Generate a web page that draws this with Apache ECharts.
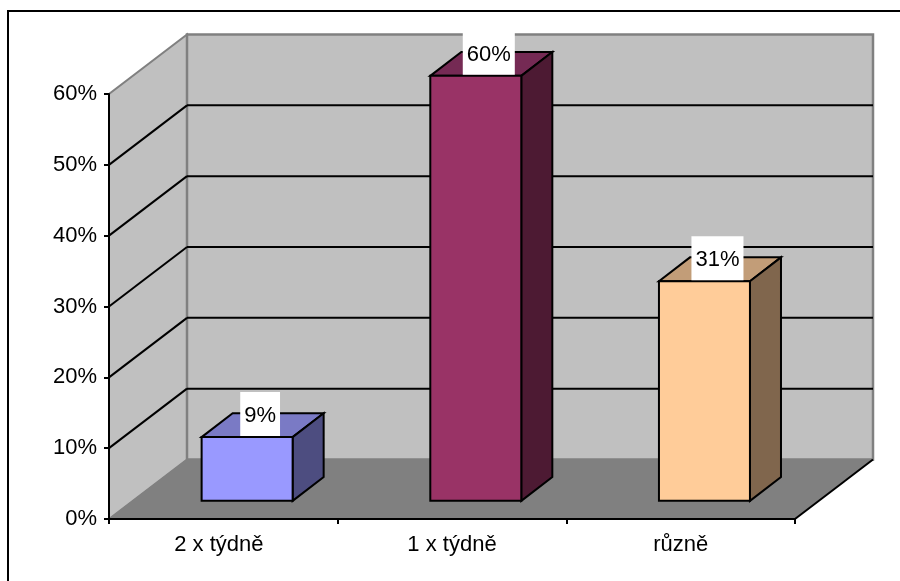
<!DOCTYPE html>
<html>
<head>
<meta charset="utf-8">
<style>html,body{margin:0;padding:0;background:#fff}#chart{width:900px;height:581px}</style>
<script src="https://cdn.jsdelivr.net/npm/echarts@6/dist/echarts.min.js"></script>
</head>
<body>
<div id="chart"></div>
<script>
// Share of respondents per frequency, in percent
const categories = ['2 x týdně', '1 x týdně', 'různě'];
const shares = [9, 60, 31];
const barColors = ['#9999FF', '#993366', '#FFCC99'];
const topColors = ['#7A7AC5', '#752A54', '#C29D78'];
const sideColors = ['#4D4D80', '#4D1A33', '#80664D'];
const gridTicks = [10, 20, 30, 40, 50];

// Oblique projection of the depth axis, and the bar's position along it
const DEPTH_X = 78, DEPTH_Y = 59.5;
const BAR_START = 0.305, BAR_END = 0.69, BAR_WIDTH = 91;
const FONT = '"Liberation Sans", Arial, sans-serif';
const FONT_SIZE = 22;

const line = (a, b, stroke, width) => ({
  type: 'line',
  shape: { x1: a[0], y1: a[1], x2: b[0], y2: b[1] },
  style: { stroke, lineWidth: width }
});
const poly = (points, fill, stroke, width) => ({
  type: 'polygon',
  shape: { points },
  style: { fill, stroke: stroke || fill, lineWidth: width || 0, lineJoin: 'miter' }
});

// Side wall, back wall, floor and the gridlines that run across the walls
function renderRoom(params, api) {
  const cs = params.coordSys;
  const l = cs.x, r = cs.x + cs.width, t = cs.y, b = cs.y + cs.height;
  const back = (x, y) => [x + DEPTH_X, y - DEPTH_Y];
  const children = [
    poly([[l, b], back(l, b), back(l, t), [l, t]], '#C0C0C0', '#808080', 2),
    poly([back(l, t), back(r, t), back(r, b), back(l, b)], '#C0C0C0', '#808080', 2.5),
    poly([[l, b], [r, b], back(r, b), back(l, b)], '#808080', '#808080', 1)
  ];
  gridTicks.forEach(tick => {
    const y = api.coord([0, tick])[1];
    children.push(line([l, y], back(l, y), '#000', 2));
    children.push(line(back(l, y), back(r, y), '#000', 2));
  });
  children.push(line([r, b], back(r, b), '#000', 2));
  return { type: 'group', children };
}

// A bar as a box standing on the floor, with its value tag on the front top edge
function renderBar(params, api) {
  const i = api.value(0), v = api.value(1);
  const cx = api.coord([i, 0])[0] + BAR_START * DEPTH_X;
  const base = api.coord([i, 0])[1] - BAR_START * DEPTH_Y;
  const top = base - (api.coord([i, 0])[1] - api.coord([i, v])[1]);
  const x0 = cx - BAR_WIDTH / 2, x1 = cx + BAR_WIDTH / 2;
  const dx = (BAR_END - BAR_START) * DEPTH_X + 1, dy = (BAR_END - BAR_START) * DEPTH_Y + 1;
  return {
    type: 'group',
    children: [
      poly([[x0, top], [x1, top], [x1 + dx, top - dy], [x0 + dx, top - dy]], topColors[i], '#000', 2),
      poly([[x1, top], [x1 + dx, top - dy], [x1 + dx, base - dy], [x1, base]], sideColors[i], '#000', 2),
      poly([[x0, top], [x1, top], [x1, base], [x0, base]], barColors[i], '#000', 2),
      {
        type: 'text',
        style: {
          x: cx + 13, y: top - 1,
          text: v + '%',
          font: FONT_SIZE + 'px ' + FONT,
          fill: '#000',
          align: 'center',
          verticalAlign: 'bottom',
          backgroundColor: '#fff',
          padding: [13, 4, 9, 4]
        }
      }
    ]
  };
}

const chart = echarts.init(document.getElementById('chart'), null, { renderer: 'canvas' });
chart.setOption({
  animation: false,
  backgroundColor: '#fff',
  graphic: [
    { type: 'line', shape: { x1: 7, y1: 11, x2: 900, y2: 11 }, style: { stroke: '#000', lineWidth: 2 } },
    { type: 'line', shape: { x1: 8, y1: 10, x2: 8, y2: 581 }, style: { stroke: '#000', lineWidth: 2 } }
  ],
  grid: { left: 109, top: 94, width: 686, height: 425 },
  xAxis: {
    type: 'category',
    data: categories,
    z: 10,
    axisLine: { lineStyle: { color: '#000', width: 2 } },
    axisTick: { show: true, interval: 0, length: 5, lineStyle: { color: '#000', width: 2 } },
    axisLabel: {
      interval: 0,
      color: '#000', fontFamily: FONT, fontSize: FONT_SIZE, margin: 15,
      // The first category sits a little left of its band centre
      formatter: (value, index) => index === 0 ? '{nudged|' + value + '}' : value,
      rich: { nudged: { color: '#000', fontFamily: FONT, fontSize: FONT_SIZE, padding: [0, 9, 0, 0] } }
    }
  },
  yAxis: {
    type: 'value',
    min: 0, max: 60, interval: 10,
    z: 10,
    splitLine: { show: false },
    axisLine: { show: true, lineStyle: { color: '#000', width: 2 } },
    axisTick: { show: true, length: 5, lineStyle: { color: '#000', width: 2 } },
    axisLabel: { color: '#000', fontFamily: FONT, fontSize: FONT_SIZE, margin: 12, formatter: '{value}%' }
  },
  series: [
    { type: 'custom', z: 1, silent: true, renderItem: renderRoom, data: [[0, 0]] },
    {
      type: 'custom', z: 2, silent: true, renderItem: renderBar,
      encode: { x: 0, y: 1 },
      data: shares.map((v, i) => [i, v])
    }
  ]
});
</script>
</body>
</html>
